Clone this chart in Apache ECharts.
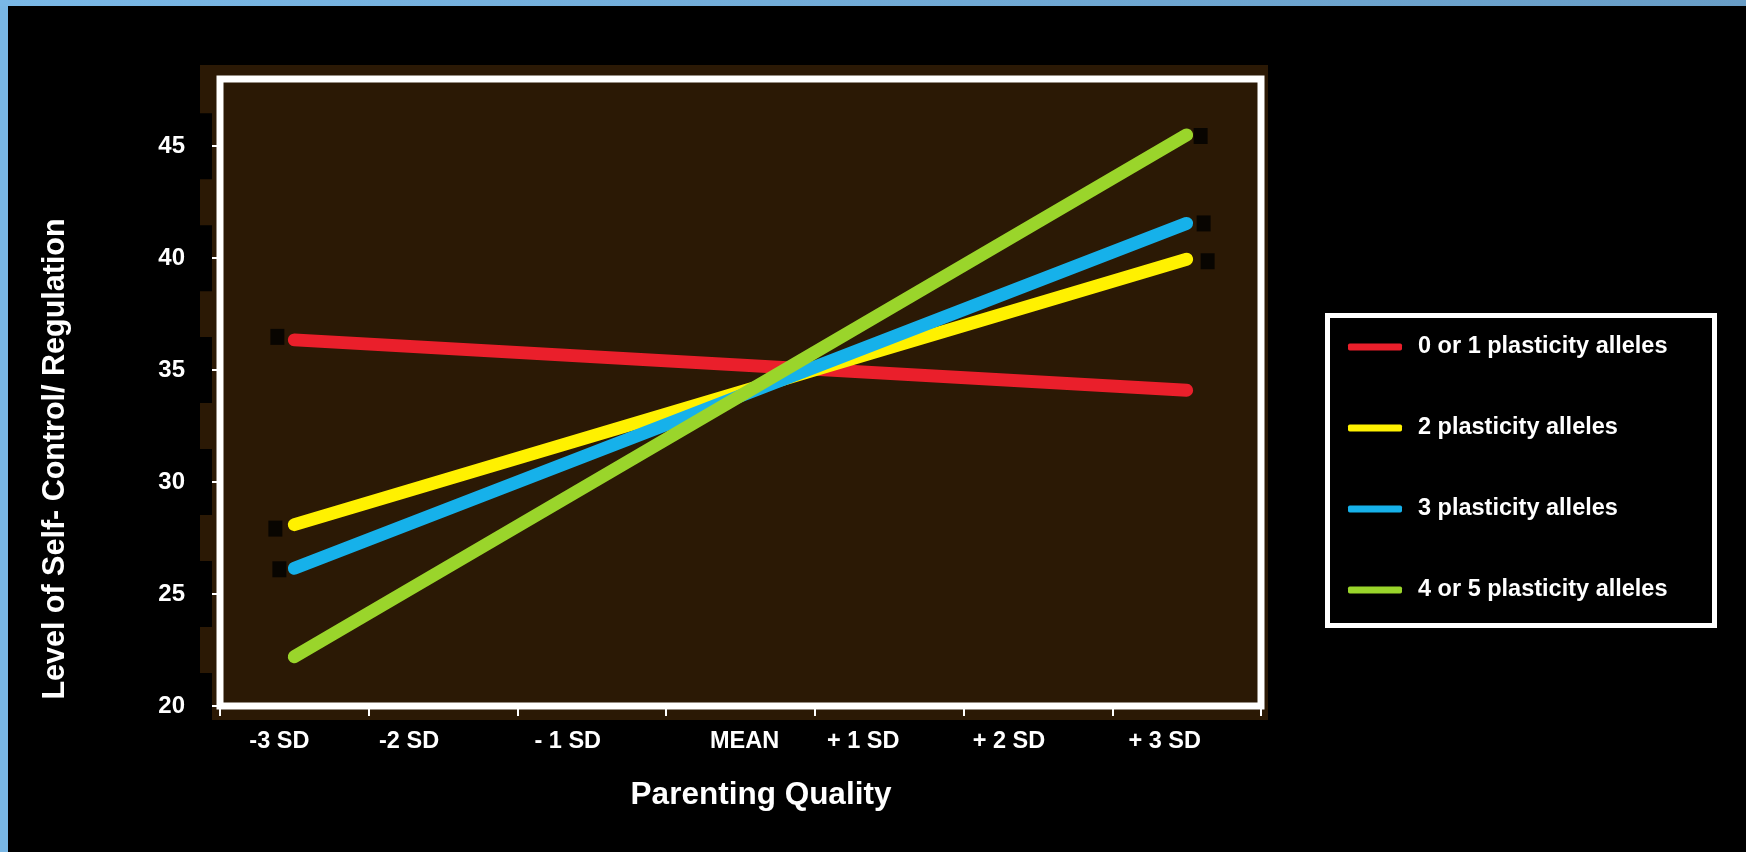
<!DOCTYPE html>
<html>
<head>
<meta charset="utf-8">
<script src="https://cdn.jsdelivr.net/npm/echarts@6/dist/echarts.min.js"></script>
<style>
  html, body { margin: 0; padding: 0; background: #000; }
  #chart { width: 1746px; height: 852px; }
</style>
</head>
<body>
<div id="chart"></div>
<script>
// ---- data ----
const categories = ['-3 SD', '-2 SD', '- 1 SD', 'MEAN', '+ 1 SD', '+ 2 SD', '+ 3 SD'];
const yTickValues = [20, 25, 30, 35, 40, 45];
const seriesNames = ['0 or 1 plasticity alleles', '2 plasticity alleles', '3 plasticity alleles', '4 or 5 plasticity alleles'];
// values at -3 SD and at +3 SD
const alleles0or1 = [36.35, 34.1];
const alleles2 = [28.1, 39.95];
const alleles3 = [26.15, 41.55];
const alleles4or5 = [22.2, 45.5];
const xTitle = 'Parenting Quality';
const yTitle = 'Level of Self- Control/ Regulation';

const FONT = 'Liberation Sans, Arial, sans-serif';
const colors = ['#ea1f2b', '#fff100', '#16b1ea', '#9ad52b'];
const allSeries = [alleles0or1, alleles2, alleles3, alleles4or5];
const firstCat = categories[0];
const lastCat = categories[categories.length - 1];

const lineSeries = allSeries.map((vals, i) => ({
  name: seriesNames[i],
  type: 'line',
  data: [[firstCat, vals[0]], [lastCat, vals[1]]],
  showSymbol: false,
  symbol: 'none',
  z: 3,
  lineStyle: { color: colors[i], width: 13, cap: 'round' },
  itemStyle: { color: colors[i] },
  emphasis: { disabled: true }
}));

// black end markers (partly hidden under the lines, as in the reference)
const markerData = [
  { value: [firstCat, alleles0or1[0]], symbolOffset: [-17, -3] },
  { value: [firstCat, alleles2[0]], symbolOffset: [-19, 4] },
  { value: [lastCat, alleles2[1]], symbolOffset: [21, 2] },
  { value: [firstCat, alleles3[0]], symbolOffset: [-15, 1] },
  { value: [lastCat, alleles3[1]], symbolOffset: [17, 0] },
  { value: [lastCat, alleles4or5[1]], symbolOffset: [14, 1] }
];

// horizontal nudges of the tick labels (they are not centred in the reference)
const labelStyleKey = { '-3 SD': 'a', '-2 SD': 'b', '- 1 SD': 'c', 'MEAN': 'm', '+ 1 SD': 'd', '+ 2 SD': 'e', '+ 3 SD': 'f' };
function lbl(padL, padR) {
  return { color: '#fff', fontWeight: 'bold', fontSize: 23.5, fontFamily: FONT, lineHeight: 24, padding: [0, padR, 0, padL] };
}

const chart = echarts.init(document.getElementById('chart'), null, { renderer: 'canvas' });
chart.setOption({
  backgroundColor: '#000',
  animation: false,
  textStyle: { fontFamily: FONT },
  grid: {
    left: 220, right: 485, top: 79, bottom: 146,
    show: true, backgroundColor: '#2b1905', borderColor: '#ffffff', borderWidth: 7,
    containLabel: false
  },
  xAxis: {
    type: 'category',
    data: categories,
    boundaryGap: true,
    axisLine: { show: false },
    axisTick: { show: true, length: 10, lineStyle: { color: '#fff', width: 2 } },
    splitLine: { show: false },
    axisLabel: {
      margin: 24,
      interval: 0,
      formatter: v => '{' + (labelStyleKey[v] || 'c') + '|' + v + '}',
      rich: {
        a: lbl(0, 30),
        b: lbl(0, 68),
        c: lbl(0, 48),
        m: lbl(8, 0),
        d: lbl(0, 52),
        e: lbl(0, 58),
        f: lbl(0, 44)
      }
    }
  },
  yAxis: {
    type: 'value',
    min: 20, max: 48, interval: 5,
    axisLine: { show: false },
    splitLine: { show: false },
    axisTick: { show: true, length: 8, customValues: yTickValues, lineStyle: { color: '#fff', width: 2 } },
    axisLabel: {
      customValues: yTickValues,
      margin: 8,
      color: '#fff', fontWeight: 'bold', fontSize: 24, fontFamily: FONT,
      backgroundColor: '#000',
      padding: [22, 27, 20, 14]
    }
  },
  legend: {
    data: seriesNames,
    orient: 'vertical',
    left: 1348, top: 335,
    padding: 0,
    icon: 'roundRect',
    itemWidth: 54, itemHeight: 7,
    itemGap: 57,
    selectedMode: false,
    textStyle: { color: '#fff', fontWeight: 'bold', fontSize: 23.5, fontFamily: FONT, padding: [0, 0, 0, 11] }
  },
  graphic: [
    { type: 'rect', z: -100, silent: true, shape: { x: 200, y: 65, width: 1068, height: 655 }, style: { fill: '#2b1905' } },
    { type: 'rect', z: -50, silent: true, shape: { x: 1327.5, y: 315.5, width: 387, height: 310 }, style: { fill: '#000', stroke: '#ffffff', lineWidth: 5 } },
    { type: 'rect', z: 100, silent: true, shape: { x: 0, y: 0, width: 8, height: 852 }, style: { fill: '#79b7e5' } },
    { type: 'rect', z: 100, silent: true, shape: { x: 0, y: 0, width: 1746, height: 6 },
      style: { fill: new echarts.graphic.LinearGradient(0, 0, 1, 0, [{ offset: 0, color: '#7ab8e6' }, { offset: 1, color: '#689dc6' }]) } },
    { type: 'text', z: 100, silent: true, x: 56, y: 459, rotation: Math.PI / 2,
      style: { text: yTitle, fill: '#fff', font: 'bold 30.5px ' + FONT, align: 'center', verticalAlign: 'middle' } },
    { type: 'text', z: 100, silent: true, x: 761, y: 795,
      style: { text: xTitle, fill: '#fff', font: 'bold 31.5px ' + FONT, align: 'center', verticalAlign: 'middle' } }
  ],
  series: [
    {
      name: 'markers',
      type: 'scatter',
      z: 1,
      symbol: 'rect',
      symbolSize: [14, 16],
      itemStyle: { color: '#000' },
      data: markerData,
      silent: true
    }
  ].concat(lineSeries)
});
</script>
</body>
</html>
